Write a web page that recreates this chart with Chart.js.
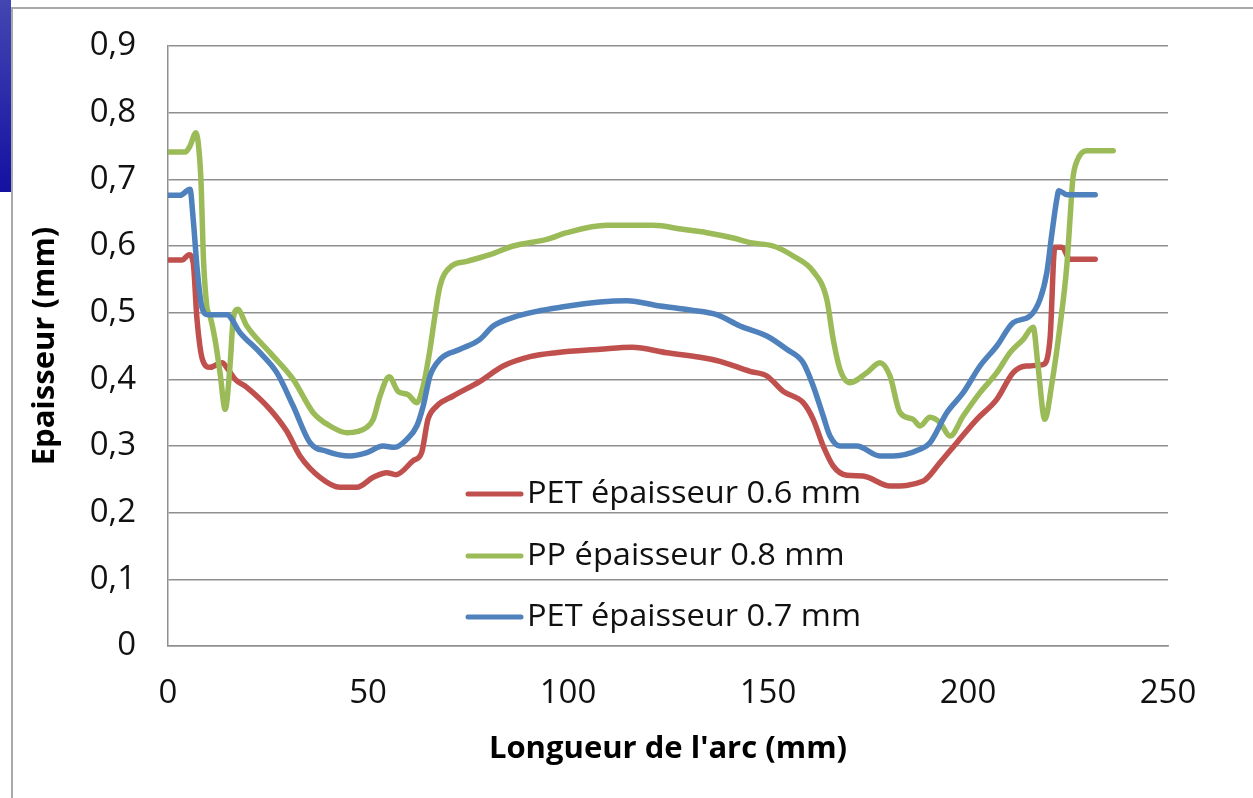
<!DOCTYPE html>
<html>
<head>
<meta charset="utf-8">
<script src="https://cdn.jsdelivr.net/npm/chart.js@4.4.1/dist/chart.umd.min.js"></script>
<style>
  html, body { margin: 0; padding: 0; background: #ffffff; }
  #wrap { position: relative; width: 1253px; height: 798px; overflow: hidden; background: #fff; }
  #bar { position: absolute; left: 0; top: 0; width: 11px; height: 192px;
         background: linear-gradient(to bottom, #4446b2, #1410a2); }
  #frame { position: absolute; left: 11px; top: 7px; width: 1300px; height: 900px;
           border-left: 2px solid #a9a9a9; border-top: 2px solid #a9a9a9; }
  #c { position: absolute; left: 0; top: 0; }
</style>
</head>
<body>
<div id="wrap">
  <div id="bar"></div>
  <div id="frame"></div>
  <canvas id="c" width="1253" height="798"></canvas>
</div>
<script>
// ---- data ----
const seriesLabels = ['PET épaisseur 0.6 mm', 'PP épaisseur 0.8 mm', 'PET épaisseur 0.7 mm'];

const pet06X = [0, 3.5, 5.3, 6.3, 7.25, 8.6, 10.5, 13.5, 15, 16.8, 19.7, 25.5, 29.7, 33, 38, 43, 47.2, 51.3, 54.7, 57, 61.3, 63.4, 65, 67.2, 71.3, 78, 83.8, 90.5, 97, 108, 116, 124.7, 133, 138, 145.5, 149.7, 153.8, 158.8, 161.3, 163.8, 166.3, 169.7, 173.7, 180.5, 188.7, 193, 197.2, 202.2, 207.2, 211.3, 214.6, 218.7, 220.5, 221.7, 223.5, 225.5, 231.8];
const pet06Y = [0.579, 0.579, 0.587, 0.575, 0.49, 0.43, 0.418, 0.425, 0.415, 0.40, 0.388, 0.355, 0.322, 0.285, 0.253, 0.238, 0.238, 0.253, 0.26, 0.257, 0.278, 0.29, 0.34, 0.36, 0.375, 0.397, 0.42, 0.434, 0.44, 0.445, 0.448, 0.44, 0.433, 0.427, 0.412, 0.405, 0.382, 0.365, 0.34, 0.30, 0.27, 0.256, 0.255, 0.24, 0.247, 0.275, 0.305, 0.34, 0.37, 0.41, 0.42, 0.422, 0.46, 0.598, 0.598, 0.58, 0.58];

const pp08X = [0, 4.3, 5.5, 7, 7.8, 8.3, 8.8, 9.7, 10.5, 11.75, 13, 14.3, 15.5, 16.3, 17.4, 19.7, 25.5, 31.3, 36.3, 40.5, 44.7, 49.7, 51.3, 53, 55.3, 57.5, 60, 62.2, 63.8, 65.5, 66.7, 68, 70.5, 74.7, 80.5, 86.3, 94.7, 99.7, 109.7, 121.3, 128.7, 134.7, 141.3, 145.5, 151.3, 156.3, 161.3, 164.7, 166.3, 168, 170.5, 174.7, 178, 180.5, 183, 186.3, 188, 190.5, 193, 195.5, 198.8, 203, 207.2, 210.5, 213.8, 216.3, 217.5, 219.2, 221, 223, 224.7, 225.5, 226.2, 227.2, 229.7, 236.3];
const pp08Y = [0.741, 0.741, 0.75, 0.77, 0.74, 0.69, 0.59, 0.51, 0.495, 0.46, 0.41, 0.355, 0.42, 0.49, 0.505, 0.48, 0.44, 0.40, 0.35, 0.33, 0.32, 0.328, 0.34, 0.375, 0.404, 0.382, 0.377, 0.365, 0.39, 0.445, 0.494, 0.54, 0.568, 0.577, 0.587, 0.60, 0.61, 0.62, 0.631, 0.631, 0.625, 0.62, 0.612, 0.605, 0.60, 0.585, 0.562, 0.52, 0.46, 0.415, 0.395, 0.41, 0.425, 0.405, 0.35, 0.34, 0.33, 0.343, 0.335, 0.315, 0.345, 0.38, 0.41, 0.44, 0.46, 0.478, 0.42, 0.34, 0.395, 0.48, 0.57, 0.64, 0.70, 0.727, 0.743, 0.743];

const pet07X = [0, 3, 5.5, 6.3, 7.3, 8.4, 10, 14.7, 18, 23, 27.2, 31.3, 35.5, 39.7, 45.5, 49.7, 53.7, 56.7, 59.7, 62.2, 63.8, 65.5, 68, 73, 78, 81.3, 86.3, 92.2, 98, 108, 114.7, 123, 130.5, 137.2, 143, 149.7, 154.7, 158.8, 161.3, 163.8, 165.5, 168, 172.2, 178, 181.3, 188, 190.5, 194.7, 198.8, 203, 207.2, 211.3, 215.5, 218, 219.7, 221, 222.2, 222.7, 224.7, 231.8];
const pet07Y = [0.676, 0.676, 0.685, 0.64, 0.565, 0.51, 0.497, 0.497, 0.47, 0.44, 0.41, 0.36, 0.305, 0.292, 0.285, 0.29, 0.30, 0.298, 0.31, 0.33, 0.36, 0.405, 0.43, 0.445, 0.46, 0.48, 0.493, 0.502, 0.508, 0.516, 0.518, 0.51, 0.504, 0.497, 0.48, 0.465, 0.445, 0.425, 0.39, 0.345, 0.315, 0.30, 0.30, 0.285, 0.285, 0.295, 0.305, 0.35, 0.38, 0.42, 0.45, 0.485, 0.495, 0.52, 0.56, 0.62, 0.67, 0.683, 0.677, 0.677];

const xTickValues = [0, 50, 100, 150, 200, 250];
const yTickLabels = ['0', '0,1', '0,2', '0,3', '0,4', '0,5', '0,6', '0,7', '0,8', '0,9'];
const seriesColors = ['#C0504D', '#9BBB59', '#4F81BD'];

function pts(xs, ys) { return xs.map((x, i) => ({ x: x, y: ys[i] })); }

const FONT = "'Open Sans', sans-serif";
const GRID = '#8f8f8f';

const legendInside = {
  id: 'legendInside',
  afterDatasetsDraw(chart) {
    const ctx = chart.ctx;
    const x0 = 468, x1 = 521, tx = 527;
    const rows = [494, 556, 617];
    ctx.save();
    chart.data.datasets.forEach((ds, i) => {
      const y = rows[i];
      ctx.strokeStyle = ds.borderColor;
      ctx.lineWidth = 5;
      ctx.lineCap = 'round';
      ctx.beginPath(); ctx.moveTo(x0, y); ctx.lineTo(x1, y); ctx.stroke();
      ctx.save();
      ctx.translate(tx, y);
      ctx.scale(1.05, 1);
      ctx.fillStyle = '#111';
      ctx.font = "31px " + FONT;
      ctx.textBaseline = 'middle';
      ctx.textAlign = 'left';
      ctx.fillText(ds.label, 0, 0);
      ctx.restore();
    });
    ctx.restore();
  }
};

new Chart(document.getElementById('c'), {
  type: 'line',
  data: {
    datasets: [
      { label: seriesLabels[0], data: pts(pet06X, pet06Y), borderColor: seriesColors[0], order: 3 },
      { label: seriesLabels[1], data: pts(pp08X, pp08Y), borderColor: seriesColors[1], order: 2 },
      { label: seriesLabels[2], data: pts(pet07X, pet07Y), borderColor: seriesColors[2], order: 1 }
    ]
  },
  options: {
    responsive: false,
    animation: false,
    layout: { padding: { left: 0, top: 46, right: 85, bottom: 0 } },
    elements: {
      point: { radius: 0 },
      line: { borderWidth: 5.5, cubicInterpolationMode: 'monotone', borderCapStyle: 'round', borderJoinStyle: 'round' }
    },
    plugins: { legend: { display: false }, tooltip: { enabled: false } },
    scales: {
      x: {
        type: 'linear', min: 0, max: 250,
        afterBuildTicks(s) { s.ticks = xTickValues.map(v => ({ value: v })); },
        afterFit(s) { s.height = 798 - 646; },
        grid: { display: false, drawTicks: false },
        border: { display: true, color: GRID, width: 1.5 },
        ticks: { padding: 28, color: '#111', font: { family: FONT, size: 33 }, maxRotation: 0,
                 callback: (v) => String(v) },
        title: { display: true, text: "Longueur de l'arc (mm)", color: '#000',
                 font: { family: FONT, size: 31, weight: 'bold' }, padding: { top: 0, bottom: 30 } }
      },
      y: {
        min: 0, max: 0.9,
        afterBuildTicks(s) { s.ticks = yTickLabels.map((t, i) => ({ value: i / 10 })); },
        afterFit(s) { s.width = 168; },
        grid: { color: GRID, lineWidth: 1.5, drawTicks: true, tickLength: 28, tickColor: 'rgba(0,0,0,0)' },
        border: { display: true, color: GRID, width: 1.5 },
        ticks: { padding: 4, color: '#111', font: { family: FONT, size: 33 },
                 callback: (v, i) => yTickLabels[i] },
        title: { display: true, text: 'Epaisseur (mm)', color: '#000',
                 font: { family: FONT, size: 31, weight: 'bold' }, padding: { top: 27, bottom: 0 } }
      }
    }
  },
  plugins: [legendInside]
});
</script>
</body>
</html>
